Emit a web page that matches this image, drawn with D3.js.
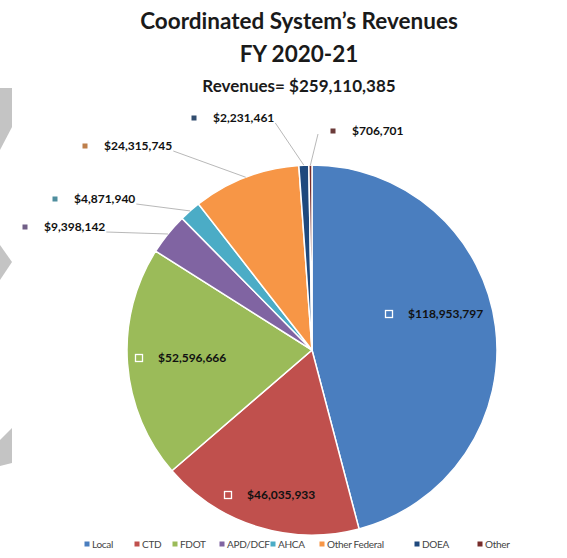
<!DOCTYPE html>
<html>
<head>
<meta charset="utf-8">
<script src="https://cdn.jsdelivr.net/npm/d3@7"></script>
<style>
  html, body { margin: 0; padding: 0; background: #fff; }
  svg { display: block; font-family: Lato, "Open Sans", sans-serif; }
</style>
</head>
<body>
<svg id="chart" width="567" height="558"></svg>
<script>
// Revenue sources, FY 2020-21
const categories = ["Local", "CTD", "FDOT", "APD/DCF", "AHCA", "Other Federal", "DOEA", "Other"];
const revenues = [118953797, 46035933, 52596666, 9398142, 4871940, 24315745, 2231461, 706701];
const colors = ["#4a7ebf", "#c0504d", "#9bbb59", "#8064a2", "#4bacc6", "#f79646", "#1f497d", "#772c2a"];
const totalLabel = "Revenues= $259,110,385";

const svg = d3.select("#chart");
const cx = 312, cy = 350, R = 185;

// Slide background decorations on the left edge
const deco = [
  [[0, 88], [12, 88], [12, 127], [0, 150]],
  [[0, 245], [12, 262], [0, 280]],
  [[0, 440], [12, 428], [12, 463], [0, 466]]
];
svg.selectAll("polygon.deco").data(deco).join("polygon")
  .attr("class", "deco")
  .attr("points", d => d.map(p => p.join(",")).join(" "))
  .attr("fill", "#c4c4c4");

// Titles
const titleX = 299;
svg.append("text").attr("x", titleX).attr("y", 29).attr("text-anchor", "middle")
  .attr("font-size", 22.5).attr("font-weight", "bold").attr("fill", "#1a1a1a")
  .text("Coordinated System\u2019s Revenues");
svg.append("text").attr("x", titleX).attr("y", 62).attr("text-anchor", "middle")
  .attr("font-size", 22.5).attr("font-weight", "bold").attr("fill", "#1a1a1a")
  .text("FY 2020-21");
svg.append("text").attr("x", titleX).attr("y", 92).attr("text-anchor", "middle")
  .attr("font-size", 17).attr("font-weight", "bold").attr("fill", "#1a1a1a")
  .text(totalLabel);

// Pie
const data = categories.map((c, i) => ({ cat: c, value: revenues[i], color: colors[i] }));
const pie = d3.pie().value(d => d.value).sort(null);
const arcs = pie(data);
const arc = d3.arc().innerRadius(0).outerRadius(R);
const edge = d3.arc().innerRadius(R).outerRadius(R);

const g = svg.append("g").attr("transform", `translate(${cx},${cy})`);
g.selectAll("path").data(arcs).join("path")
  .attr("d", arc)
  .attr("fill", d => d.data.color)
  .attr("stroke", "#fff")
  .attr("stroke-width", 1.5);

const fmt = d3.format("$,");

// Data label placement (marker centre, text middle) and whether the label sits inside
const labelPos = {
  "Local": { x: 389, y: 314, inside: true },
  "CTD": { x: 228, y: 495, inside: true },
  "FDOT": { x: 139, y: 358, inside: true },
  "APD/DCF": { x: 25, y: 227, inside: false },
  "AHCA": { x: 55, y: 199, inside: false },
  "Other Federal": { x: 85, y: 146, inside: false },
  "DOEA": { x: 194, y: 118, inside: false },
  "Other": { x: 333, y: 131, inside: false }
};

const labels = svg.append("g");
arcs.forEach(a => {
  const p = labelPos[a.data.cat];
  const txt = labels.append("text")
    .attr("x", p.x + 19).attr("y", p.y + 4)
    .attr("font-size", 12).attr("font-weight", "bold").attr("fill", "#111")
    .text(fmt(a.data.value));
  if (p.inside) {
    labels.append("rect").attr("x", p.x - 3.5).attr("y", p.y - 3.5)
      .attr("width", 7).attr("height", 7)
      .attr("fill", a.data.color).attr("stroke", "#fff").attr("stroke-width", 1.3);
  } else {
    labels.append("rect").attr("x", p.x - 2.5).attr("y", p.y - 2.5)
      .attr("width", 5).attr("height", 5)
      .attr("fill", d3.interpolateRgb(a.data.color, "#555")(0.35));
    // Leader line from label to the slice edge
    const bb = txt.node().getBBox();
    const [ex, ey] = edge.centroid(a);
    let sx, sy;
    if (a.data.cat === "Other") { sx = p.x - 15; sy = p.y + 3; }
    else { sx = bb.x + bb.width + 1; sy = p.y + 5; }
    labels.append("path")
      .attr("d", `M${sx},${sy}L${cx + ex},${cy + ey}`)
      .attr("stroke", "#a6a6a6").attr("stroke-width", 0.8).attr("fill", "none");
  }
});

// Legend
const legendX = [87, 137, 175, 222, 273, 322, 417, 480];
const legend = svg.append("g");
categories.forEach((c, i) => {
  legend.append("rect").attr("x", legendX[i] - 2.5).attr("y", 541.5)
    .attr("width", 5).attr("height", 5).attr("fill", colors[i]);
  legend.append("text").attr("x", legendX[i] + 5).attr("y", 548)
    .attr("font-size", 10).attr("letter-spacing", -0.3).attr("fill", "#444").text(c);
});
</script>
</body>
</html>
